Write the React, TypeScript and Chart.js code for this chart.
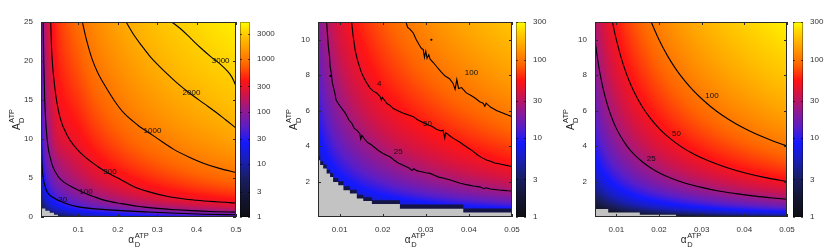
import React, { useEffect, useRef } from 'react';
import { Chart, registerables } from 'chart.js';

Chart.register(...registerables);

const FONT = '"Liberation Sans", Arial, Helvetica, sans-serif';
Chart.defaults.font.family = FONT;

type Pair = [number, number];

// ================= Panel 1 =================
const P1_X_TICKS = [0.1, 0.2, 0.3, 0.4, 0.5];
const P1_Y_TICKS = [0, 5, 10, 15, 20, 25];
const P1_CB_TICKS = [1, 3, 10, 30, 100, 300, 1000, 3000];
const P1_GRID_ALPHA = [0.005, 0.02, 0.05, 0.1, 0.2, 0.3, 0.4, 0.5];
const P1_GRID_A = [0, 0.5, 1, 2, 4, 7, 10, 15, 20, 25];
const P1_GRID_VALUES = [
  [0.3, 1.2, 3, 6, 12, 18, 24, 30],
  [0.9, 3.5, 8, 15, 30, 48, 68, 85],
  [1.8, 7, 16, 30, 60, 96, 136, 170],
  [4, 15, 33, 60, 125, 200, 275, 340],
  [9, 33, 75, 125, 255, 400, 550, 690],
  [17, 62, 140, 225, 460, 710, 960, 1200],
  [22, 88, 240, 330, 670, 1020, 1380, 1730],
  [30, 135, 350, 510, 1010, 1540, 2070, 2600],
  [38, 170, 440, 690, 1360, 2060, 2760, 3450],
  [46, 200, 520, 870, 1720, 2580, 3430, 4300],
];
const P1_C3000: Pair[] = [[0.337, 25], [0.36, 24.1], [0.385, 22.9], [0.41, 21.7], [0.435, 20.6], [0.46, 19.6], [0.48, 18.6], [0.49, 17.9], [0.5, 16.8]];
const P1_C2000: Pair[] = [[0.221, 25], [0.24, 23.4], [0.26, 22.0], [0.28, 20.7], [0.3, 19.6], [0.32, 18.6], [0.35, 17.2], [0.387, 15.7], [0.42, 14.5], [0.45, 13.4], [0.475, 12.4], [0.5, 11.4]];
const P1_C1000: Pair[] = [[0.11, 25], [0.12, 22.8], [0.135, 20.2], [0.15, 18.4], [0.163, 17.2], [0.19, 15.0], [0.214, 13.4], [0.25, 11.8], [0.288, 10.5], [0.32, 9.4], [0.341, 8.7], [0.38, 7.7], [0.417, 6.9], [0.46, 6.2], [0.5, 5.7]];
const P1_C300: Pair[] = [[0.0296, 25], [0.0324, 21.0], [0.0398, 16.7], [0.0525, 12.9], [0.0735, 10.3], [0.107, 8.15], [0.1497, 6.45], [0.18, 5.5], [0.209, 4.75], [0.24, 3.9], [0.277, 3.25], [0.33, 2.6], [0.4, 2.15], [0.45, 1.95], [0.5, 1.8]];
const P1_C100: Pair[] = [[0.0105, 25], [0.012, 20], [0.0144, 15], [0.018, 11.5], [0.0228, 9.0], [0.03, 7.3], [0.0355, 6.4], [0.05, 5.1], [0.065, 4.4], [0.09, 3.7], [0.117, 3.05], [0.14, 2.6], [0.17, 2.1], [0.209, 1.72], [0.25, 1.38], [0.3, 1.1], [0.35, 0.92], [0.4, 0.78], [0.45, 0.68], [0.5, 0.62]];
const P1_C30: Pair[] = [[0.005, 16], [0.0058, 11], [0.0068, 8], [0.0085, 6.0], [0.011, 4.9], [0.0144, 4.1], [0.02, 3.3], [0.027, 2.8], [0.036, 2.5], [0.05, 2.1], [0.065, 1.8], [0.082, 1.5], [0.1, 1.3], [0.13, 1.1], [0.167, 0.95], [0.22, 0.78], [0.277, 0.64], [0.35, 0.48], [0.42, 0.36], [0.5, 0.28]];
const P1_LABELS: [string, number, number][] = [['3000', 0.461, 20.0], ['2000', 0.387, 15.9], ['1000', 0.288, 11.0], ['300', 0.18, 5.8], ['100', 0.119, 3.2], ['30', 0.06, 2.24]];
const P1_GRAY: Pair[] = [[0.005, 1.08], [0.016, 0.8], [0.027, 0.55], [0.038, 0.3], [0.048, 0], [0.5, 0]];

// ================= Panel 2 =================
const P2_X_TICKS = [0.01, 0.02, 0.03, 0.04, 0.05];
const P2_Y_TICKS = [2, 4, 6, 8, 10];
const P2_CB_TICKS = [1, 3, 10, 30, 100, 300];
const P2_GRID_ALPHA = [0.005, 0.01, 0.02, 0.03, 0.04, 0.05];
const P2_GRID_A = [0, 1, 2, 4, 7, 11];
const P2_GRID_VALUES = [
  [0, 0, 0, 0, 0, 0],
  [1.8, 3.6, 7, 10.5, 14, 17.5],
  [3.6, 7.2, 14, 21, 28, 35],
  [7, 14.5, 28.5, 42, 56, 70],
  [12, 26, 52, 75, 99, 124],
  [19, 41, 80, 118, 157, 196],
];
const P2_C100: Pair[] = [[0.0254, 11.0], [0.0258, 10.7], [0.0263, 10.6], [0.0271, 10.38], [0.0278, 10.0], [0.0285, 9.7], [0.029, 9.5], [0.0294, 9.45], [0.0297, 9.0], [0.03, 9.35], [0.0303, 8.95], [0.0307, 9.15], [0.031, 8.9], [0.0318, 8.7], [0.0325, 8.49], [0.0335, 8.2], [0.0345, 7.95], [0.0355, 7.8], [0.0363, 7.55], [0.0368, 7.2], [0.0372, 7.75], [0.0376, 7.25], [0.0383, 7.3], [0.0394, 7.0], [0.0405, 6.85], [0.0415, 6.7], [0.0425, 6.5], [0.0433, 6.42], [0.0437, 6.25], [0.044, 6.42], [0.045, 6.2], [0.0465, 6.0], [0.048, 5.85], [0.049, 5.75], [0.05, 5.66]];
const P2_C50: Pair[] = [[0.0128, 11.0], [0.0131, 10.3], [0.0134, 9.8], [0.0136, 9.43], [0.0141, 8.9], [0.0146, 8.5], [0.015, 8.2], [0.0155, 7.92], [0.0162, 7.6], [0.017, 7.3], [0.0178, 7.1], [0.0186, 7.0], [0.0194, 6.79], [0.0197, 6.6], [0.0199, 6.75], [0.0204, 6.6], [0.021, 6.4], [0.0217, 6.3], [0.0224, 6.13], [0.0235, 6.0], [0.0248, 5.85], [0.026, 5.75], [0.0271, 5.66], [0.028, 5.5], [0.0292, 5.35], [0.0304, 5.2], [0.0315, 5.1], [0.0325, 4.95], [0.0335, 4.85], [0.034, 4.9], [0.0344, 4.45], [0.0346, 4.75], [0.0352, 4.65], [0.036, 4.5], [0.037, 4.35], [0.038, 4.2], [0.0394, 3.96], [0.041, 3.7], [0.042, 3.5], [0.043, 3.35], [0.0441, 3.21], [0.045, 3.15], [0.046, 3.05], [0.047, 3.0], [0.048, 2.95], [0.049, 2.9], [0.05, 2.83]];
const P2_C25: Pair[] = [[0.007, 11.0], [0.0072, 10.3], [0.0074, 9.6], [0.0077, 9.0], [0.0078, 8.5], [0.0081, 8.1], [0.0083, 7.6], [0.0086, 7.3], [0.0089, 7.0], [0.0092, 6.6], [0.0097, 6.4], [0.0103, 6.2], [0.0109, 6.0], [0.0115, 5.8], [0.0121, 5.5], [0.0128, 5.3], [0.0134, 5.0], [0.014, 4.9], [0.0147, 4.7], [0.0149, 4.4], [0.0152, 4.6], [0.0158, 4.4], [0.0165, 4.2], [0.0172, 4.1], [0.018, 3.95], [0.019, 3.75], [0.02, 3.6], [0.0208, 3.5], [0.0217, 3.4], [0.0227, 3.2], [0.0236, 3.05], [0.0245, 2.95], [0.0255, 2.83], [0.0262, 2.75], [0.0268, 2.62], [0.0272, 2.72], [0.028, 2.6], [0.029, 2.55], [0.03, 2.5], [0.031, 2.46], [0.032, 2.35], [0.033, 2.25], [0.034, 2.2], [0.0355, 2.1], [0.0371, 1.98], [0.038, 1.9], [0.039, 1.85], [0.04, 1.8], [0.041, 1.75], [0.0425, 1.7], [0.0435, 1.6], [0.044, 1.65], [0.045, 1.58], [0.046, 1.55], [0.047, 1.52], [0.048, 1.5], [0.049, 1.48], [0.05, 1.47]];
const P2_DOTS: Pair[] = [[0.0313, 10.0], [0.0079, 7.96]];
const P2_LABELS: [string, number, number][] = [['100', 0.0406, 8.12], ['50', 0.0304, 5.28], ['25', 0.0236, 3.68], ['4', 0.0192, 7.51]];
const P2_GRAY: Pair[] = [[0.005, 3.2], [0.0055, 2.93], [0.0062, 2.74], [0.007, 2.45], [0.0078, 2.26], [0.0085, 1.98], [0.0097, 1.79], [0.0109, 1.51], [0.0124, 1.32], [0.014, 1.04], [0.0155, 0.9], [0.0175, 0.73], [0.024, 0.47], [0.0387, 0.25], [0.05, 0.25]];
const P2_BAND: Pair[] = [[0.005, 3.42], [0.0055, 3.15], [0.0062, 2.96], [0.007, 2.67], [0.0078, 2.48], [0.0085, 2.2], [0.0097, 2.01], [0.0109, 1.73], [0.0124, 1.54], [0.014, 1.26], [0.0155, 1.12], [0.0175, 0.95], [0.024, 0.7], [0.0387, 0.48], [0.05, 0.48]];

// ================= Panel 3 =================
const P3_X_TICKS = [0.01, 0.02, 0.03, 0.04, 0.05];
const P3_Y_TICKS = [2, 4, 6, 8, 10];
const P3_CB_TICKS = [1, 3, 10, 30, 100, 300];
const P3_GRID_ALPHA = [0.005, 0.01, 0.02, 0.03, 0.04, 0.05];
const P3_GRID_A = [0, 1, 2, 4, 7, 11];
const P3_GRID_VALUES = [
  [0.2, 0.4, 0.8, 1.2, 1.6, 2],
  [2.5, 5, 10, 15, 20, 25],
  [5, 10, 20, 30, 40, 50],
  [10, 20, 40, 60, 80, 100],
  [17.5, 35, 70, 105, 140, 175],
  [27.5, 55, 110, 165, 220, 275],
];
const P3_C25: Pair[] = [[0.005, 10], [0.0055, 9.09], [0.006, 8.33], [0.0065, 7.69], [0.007, 7.14], [0.008, 6.25], [0.009, 5.56], [0.01, 5], [0.011, 4.55], [0.0125, 4], [0.014, 3.57], [0.016, 3.13], [0.018, 2.78], [0.02, 2.5], [0.023, 2.17], [0.026, 1.92], [0.03, 1.67], [0.034, 1.47], [0.038, 1.32], [0.042, 1.19], [0.046, 1.09], [0.05, 1.0]];
const P3_C50: Pair[] = [[0.00909, 11], [0.0095, 10.53], [0.01, 10], [0.011, 9.09], [0.012, 8.33], [0.013, 7.69], [0.014, 7.14], [0.016, 6.25], [0.018, 5.56], [0.02, 5], [0.022, 4.55], [0.025, 4], [0.028, 3.57], [0.032, 3.13], [0.036, 2.78], [0.04, 2.5], [0.045, 2.22], [0.05, 2.0]];
const P3_C100: Pair[] = [[0.01818, 11], [0.019, 10.53], [0.02, 10], [0.022, 9.09], [0.024, 8.33], [0.026, 7.69], [0.028, 7.14], [0.03, 6.67], [0.032, 6.25], [0.035, 5.71], [0.038, 5.26], [0.041, 4.88], [0.044, 4.55], [0.047, 4.26], [0.05, 4.0]];
const P3_LABELS: [string, number, number][] = [['100', 0.0324, 6.85], ['50', 0.0241, 4.68], ['25', 0.0182, 3.27]];
const P3_GRAY: Pair[] = [[0.005, 0.45], [0.0081, 0.26], [0.0155, 0.13], [0.024, 0], [0.05, 0]];

// ================= Colour map (log-normalised) =================
const CMAP_POS = [0, 0.1, 0.2, 0.3, 0.38, 0.46, 0.55, 0.63, 0.7, 0.78, 0.87, 0.95, 1];
const CMAP_RGB = [
  [15, 15, 20], [20, 22, 50], [25, 30, 100], [25, 30, 190], [20, 25, 255], [90, 30, 200],
  [150, 25, 140], [210, 20, 70], [255, 20, 20], [255, 100, 0], [255, 160, 0], [255, 212, 0], [255, 255, 0],
];

function cmap(t: number): number[] {
  if (!(t > 0)) t = 0;
  if (t > 1) t = 1;
  let i = 0;
  while (i < CMAP_POS.length - 2 && t > CMAP_POS[i + 1]) i++;
  const f = (t - CMAP_POS[i]) / (CMAP_POS[i + 1] - CMAP_POS[i]);
  const a = CMAP_RGB[i], b = CMAP_RGB[i + 1];
  return [a[0] + (b[0] - a[0]) * f, a[1] + (b[1] - a[1]) * f, a[2] + (b[2] - a[2]) * f];
}

function bilinear(xs: number[], ys: number[], grid: number[][], x: number, y: number): number {
  let i = 0;
  while (i < xs.length - 2 && x > xs[i + 1]) i++;
  let j = 0;
  while (j < ys.length - 2 && y > ys[j + 1]) j++;
  const tx = Math.min(1, Math.max(0, (x - xs[i]) / (xs[i + 1] - xs[i])));
  const ty = Math.min(1, Math.max(0, (y - ys[j]) / (ys[j + 1] - ys[j])));
  return grid[j][i] * (1 - tx) * (1 - ty) + grid[j][i + 1] * tx * (1 - ty) + grid[j + 1][i] * (1 - tx) * ty + grid[j + 1][i + 1] * tx * ty;
}

interface PanelDef {
  id: string;
  left: number;
  width: number;
  yAxisWidth: number;
  cbWidth: number;
  cbOffset: number;
  cbLabelGap: number;
  xMin: number; xMax: number; yMin: number; yMax: number;
  xTicks: number[]; yTicks: number[];
  cbMax: number; cbTicks: number[];
  gridAlpha: number[]; gridA: number[]; gridValues: number[][];
  contours: Pair[][];
  smooth: boolean;
  labels: [string, number, number][];
  gray: Pair[];
  band?: Pair[];
  dots?: Pair[];
}

const PANELS: PanelDef[] = [
  {
    id: 'p1', left: 0, width: 280, yAxisWidth: 41, cbWidth: 44, cbOffset: 4, cbLabelGap: 21,
    xMin: 0.005, xMax: 0.5, yMin: 0, yMax: 25, xTicks: P1_X_TICKS, yTicks: P1_Y_TICKS,
    cbMax: 5000, cbTicks: P1_CB_TICKS,
    gridAlpha: P1_GRID_ALPHA, gridA: P1_GRID_A, gridValues: P1_GRID_VALUES,
    contours: [P1_C3000, P1_C2000, P1_C1000, P1_C300, P1_C100, P1_C30], smooth: true,
    labels: P1_LABELS, gray: P1_GRAY,
  },
  {
    id: 'p2', left: 280, width: 275, yAxisWidth: 38, cbWidth: 43, cbOffset: 4, cbLabelGap: 21,
    xMin: 0.005, xMax: 0.05, yMin: 0, yMax: 11, xTicks: P2_X_TICKS, yTicks: P2_Y_TICKS,
    cbMax: 300, cbTicks: P2_CB_TICKS,
    gridAlpha: P2_GRID_ALPHA, gridA: P2_GRID_A, gridValues: P2_GRID_VALUES,
    contours: [P2_C100, P2_C50, P2_C25], smooth: false,
    labels: P2_LABELS, gray: P2_GRAY, band: P2_BAND, dots: P2_DOTS,
  },
  {
    id: 'p3', left: 555, width: 275, yAxisWidth: 40, cbWidth: 43, cbOffset: 6, cbLabelGap: 23,
    xMin: 0.005, xMax: 0.05, yMin: 0, yMax: 11, xTicks: P3_X_TICKS, yTicks: P3_Y_TICKS,
    cbMax: 300, cbTicks: P3_CB_TICKS,
    gridAlpha: P3_GRID_ALPHA, gridA: P3_GRID_A, gridValues: P3_GRID_VALUES,
    contours: [P3_C100, P3_C50, P3_C25], smooth: true,
    labels: P3_LABELS, gray: P3_GRAY,
  },
];

const toXY = (pts: Pair[]) => pts.map(([x, y]) => ({ x, y }));

function drawSymbol(ctx: CanvasRenderingContext2D, cx: number, cy: number, main: string, rotate: boolean) {
  ctx.save();
  ctx.translate(cx, cy);
  if (rotate) ctx.rotate(-Math.PI / 2);
  ctx.fillStyle = '#222';
  ctx.textBaseline = 'middle';
  ctx.textAlign = 'left';
  const mainFont = `10px ${FONT}`;
  const smallFont = `7.5px ${FONT}`;
  ctx.font = mainFont;
  const wMain = ctx.measureText(main).width;
  ctx.font = smallFont;
  const wSub = ctx.measureText('D').width;
  const wSup = ctx.measureText('ATP').width;
  const total = wMain + 0.5 + Math.max(wSub, wSup);
  const x0 = -total / 2;
  ctx.font = mainFont;
  ctx.fillText(main, x0, 0);
  ctx.font = smallFont;
  ctx.fillText('D', x0 + wMain + 0.5, 4.5);
  ctx.fillText('ATP', x0 + wMain + 0.5, -5);
  ctx.restore();
}

function makePlugin(p: PanelDef) {
  return {
    id: 'heat_' + p.id,
    beforeDatasetsDraw(chart: any) {
      const { ctx, chartArea: ca, scales } = chart;
      const xs = scales.x, ys = scales.y;
      const w = Math.round(ca.right - ca.left), h = Math.round(ca.bottom - ca.top);
      const off = document.createElement('canvas');
      off.width = w; off.height = h;
      const octx = off.getContext('2d')!;
      const img = octx.createImageData(w, h);
      const logMax = Math.log10(p.cbMax);
      const xv: number[] = [];
      for (let i = 0; i < w; i++) xv.push(xs.getValueForPixel(ca.left + i + 0.5));
      for (let j = 0; j < h; j++) {
        const a = ys.getValueForPixel(ca.top + j + 0.5);
        for (let i = 0; i < w; i++) {
          const v = bilinear(p.gridAlpha, p.gridA, p.gridValues, xv[i], a);
          const c = cmap(v > 0 ? Math.log10(v) / logMax : 0);
          const k = (j * w + i) * 4;
          img.data[k] = c[0]; img.data[k + 1] = c[1]; img.data[k + 2] = c[2]; img.data[k + 3] = 255;
        }
      }
      octx.putImageData(img, 0, 0);
      ctx.drawImage(off, ca.left, ca.top);
    },
    afterDatasetsDraw(chart: any) {
      const { ctx, chartArea: ca, scales } = chart;
      const xs = scales.x, ys = scales.y;
      ctx.save();
      ctx.fillStyle = '#111';
      ctx.font = `8px ${FONT}`;
      ctx.textAlign = 'center';
      ctx.textBaseline = 'middle';
      for (const [txt, a, A] of p.labels) {
        ctx.fillText(txt, xs.getPixelForValue(a), ys.getPixelForValue(A));
      }
      ctx.strokeStyle = '#2a2a2a';
      ctx.lineWidth = 1;
      ctx.strokeRect(ca.left + 0.5, ca.top + 0.5, ca.right - ca.left - 1, ca.bottom - ca.top - 1);
      ctx.beginPath();
      for (const t of p.xTicks) {
        const x = Math.round(xs.getPixelForValue(t)) + 0.5;
        ctx.moveTo(x, ca.bottom); ctx.lineTo(x, ca.bottom - 3);
        ctx.moveTo(x, ca.top); ctx.lineTo(x, ca.top + 3);
      }
      for (const t of p.yTicks) {
        const y = Math.round(ys.getPixelForValue(t)) + 0.5;
        ctx.moveTo(ca.left, y); ctx.lineTo(ca.left + 3, y);
        ctx.moveTo(ca.right, y); ctx.lineTo(ca.right - 3, y);
      }
      ctx.stroke();
      ctx.restore();
    },
    afterDraw(chart: any) {
      const { ctx, chartArea: ca, scales } = chart;
      const cb = scales.cb;
      const logMax = Math.log10(p.cbMax);
      const x0 = ca.right + p.cbOffset, wBar = 10;
      ctx.save();
      for (let y = Math.floor(ca.top); y < Math.ceil(ca.bottom); y++) {
        const v = cb.getValueForPixel(y + 0.5);
        const c = cmap(Math.log10(v) / logMax);
        ctx.fillStyle = `rgb(${c[0] | 0},${c[1] | 0},${c[2] | 0})`;
        ctx.fillRect(x0, y, wBar, 1);
      }
      ctx.strokeStyle = 'rgba(0,0,0,0.35)';
      ctx.lineWidth = 1;
      ctx.strokeRect(x0 + 0.5, ca.top + 0.5, wBar - 1, ca.bottom - ca.top - 1);
      ctx.beginPath();
      for (const t of p.cbTicks) {
        const y = Math.round(cb.getPixelForValue(t)) + 0.5;
        ctx.moveTo(x0, y); ctx.lineTo(x0 + 2, y);
        ctx.moveTo(x0 + wBar, y); ctx.lineTo(x0 + wBar - 2, y);
      }
      ctx.strokeStyle = 'rgba(0,0,0,0.6)';
      ctx.stroke();
      ctx.restore();
      drawSymbol(ctx, (ca.left + ca.right) / 2, ca.bottom + 23.5, '\u03b1', false);
      drawSymbol(ctx, ca.left - 24, (ca.top + ca.bottom) / 2, 'A', true);
    },
  };
}

function buildConfig(p: PanelDef): any {
  const datasets: any[] = [];
  p.contours.forEach((c) => {
    datasets.push({
      type: 'line', data: toXY(c), borderColor: '#000', borderWidth: 1.1, pointRadius: 0, fill: false,
      order: 1, ...(p.smooth ? { cubicInterpolationMode: 'monotone' } : { tension: 0 }),
    });
  });
  if (p.dots) {
    datasets.push({ type: 'line', data: toXY(p.dots), showLine: false, pointRadius: 1.1, pointBackgroundColor: '#000', pointBorderWidth: 0, order: 1 });
  }
  datasets.push({
    type: 'line', data: toXY(p.gray), stepped: 'before', fill: 'origin', backgroundColor: '#c3c3c3',
    borderColor: 'rgba(0,0,0,0)', borderWidth: 0, pointRadius: 0, order: 2,
  });
  if (p.band) {
    datasets.push({
      type: 'line', data: toXY(p.band), stepped: 'before', fill: 'origin', backgroundColor: 'rgb(20,20,70)',
      borderColor: 'rgba(0,0,0,0)', borderWidth: 0, pointRadius: 0, order: 3,
    });
  }
  const tickFont = { size: 8, family: FONT };
  return {
    type: 'line',
    data: { datasets },
    options: {
      animation: false,
      responsive: false,
      devicePixelRatio: 1,
      events: [],
      layout: { padding: { top: 22, left: 0, right: 0, bottom: 0 } },
      plugins: { legend: { display: false }, tooltip: { enabled: false } },
      scales: {
        x: {
          type: 'linear', min: p.xMin, max: p.xMax, position: 'bottom',
          grid: { display: false, drawTicks: false }, border: { display: false },
          ticks: { font: tickFont, color: '#333', padding: 8, autoSkip: false, maxRotation: 0, callback: (v: number) => String(v) },
          afterBuildTicks: (s: any) => { s.ticks = p.xTicks.map((v) => ({ value: v })); },
          afterFit: (s: any) => { s.height = 35; },
        },
        y: {
          type: 'linear', min: p.yMin, max: p.yMax, position: 'left',
          grid: { display: false, drawTicks: false }, border: { display: false },
          ticks: { font: tickFont, color: '#333', padding: 8, autoSkip: false, callback: (v: number) => String(v) },
          afterBuildTicks: (s: any) => { s.ticks = p.yTicks.map((v) => ({ value: v })); },
          afterFit: (s: any) => { s.width = p.yAxisWidth; },
        },
        cb: {
          type: 'logarithmic', axis: 'y', position: 'right', min: 1, max: p.cbMax,
          grid: { display: false, drawTicks: true, tickLength: p.cbLabelGap - 2 }, border: { display: false },
          ticks: { font: tickFont, color: '#333', padding: 2, autoSkip: false, callback: (v: number) => String(v) },
          afterBuildTicks: (s: any) => { s.ticks = p.cbTicks.map((v) => ({ value: v })); },
          afterFit: (s: any) => { s.width = p.cbWidth; },
        },
      },
    },
    plugins: [makePlugin(p)],
  };
}

function Panel({ def }: { def: PanelDef }) {
  const ref = useRef<HTMLCanvasElement>(null);
  useEffect(() => {
    const chart = new Chart(ref.current as HTMLCanvasElement, buildConfig(def));
    return () => chart.destroy();
  }, [def]);
  return (
    <canvas
      ref={ref}
      width={def.width}
      height={252}
      style={{ position: 'absolute', left: def.left, top: 0, width: def.width, height: 252 }}
    />
  );
}

export default function App() {
  return (
    <div style={{ position: 'fixed', left: 0, top: 0, width: 830, height: 252, background: '#fff', overflow: 'hidden' }}>
      {PANELS.map((p) => (
        <Panel key={p.id} def={p} />
      ))}
    </div>
  );
}
